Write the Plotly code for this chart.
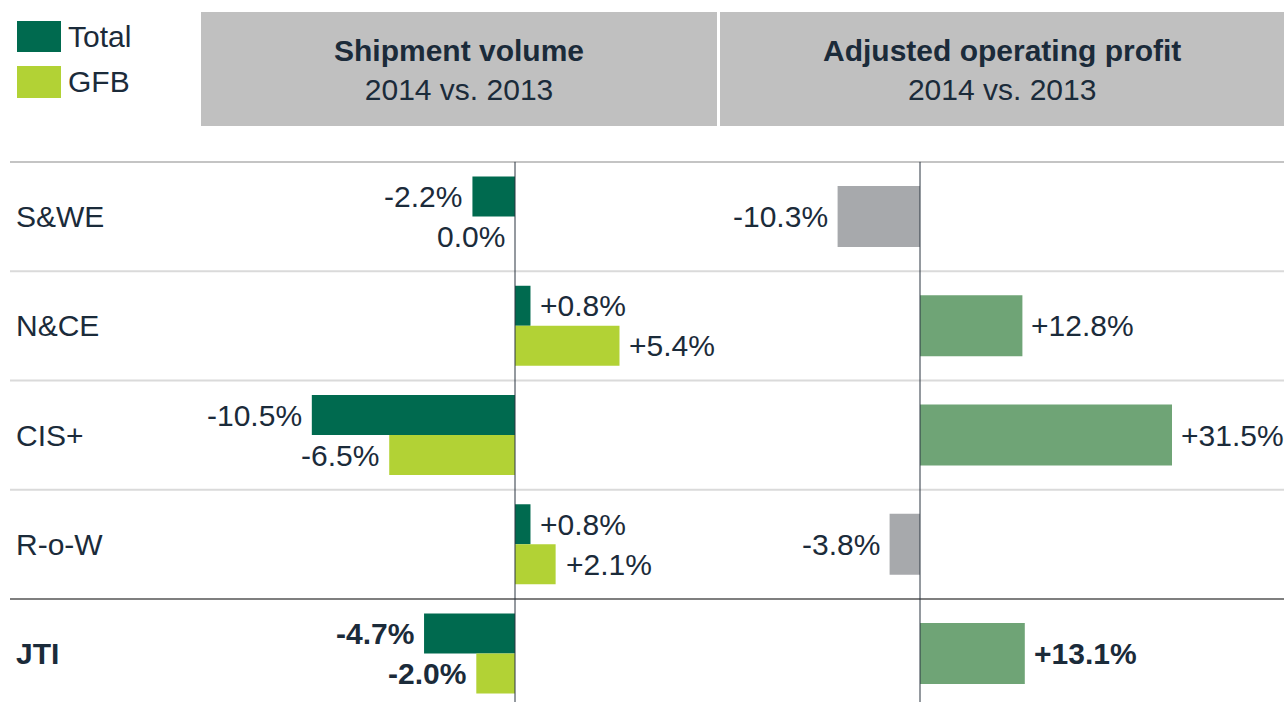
import plotly.graph_objects as go

# ---- data ----
regions = ["S&WE", "N&CE", "CIS+", "R-o-W", "JTI"]
vol_total = [-2.2, 0.8, -10.5, 0.8, -4.7]
vol_gfb = [0.0, 5.4, -6.5, 2.1, -2.0]
profit = [-10.3, 12.8, 31.5, -3.8, 13.1]
series_names = ["Total", "GFB"]
header_titles = ["Shipment volume", "Adjusted operating profit"]
header_sub = "2014 vs. 2013"

# ---- style ----
W, H = 1284, 702
TXT = "#1b2b3a"
C_TOTAL = "#006a4f"
C_GFB = "#b2d235"
C_POS = "#6fa476"
C_NEG = "#a7a9ac"
FONT = "Liberation Sans, Arial, sans-serif"
FS = 30

row_h = 109.25
top_row_center = 216.5
y_top = -top_row_center / row_h
y_bot = y_top + H / row_h

s1, z1 = 19.35, 515.0   # px per %, zero px for shipment
s2, z2 = 8.0, 920.0     # px per %, zero px for profit
split = 720.0

fig = go.Figure()
fig.add_trace(go.Bar(y=regions, x=vol_total, orientation="h", name=series_names[0],
                     marker=dict(color=C_TOTAL, line=dict(width=0)), xaxis="x", yaxis="y",
                     showlegend=False))
fig.add_trace(go.Bar(y=regions, x=vol_gfb, orientation="h", name=series_names[1],
                     marker=dict(color=C_GFB, line=dict(width=0)), xaxis="x", yaxis="y",
                     showlegend=False))
fig.add_trace(go.Bar(y=regions, x=profit, orientation="h", name="Profit", width=0.56,
                     marker=dict(color=[C_POS if v > 0 else C_NEG for v in profit], line=dict(width=0)),
                     xaxis="x2", yaxis="y2", showlegend=False))


def fmt(v, bold):
    s = (f"+{v:.1f}%" if v > 0 else f"{v:.1f}%")
    return f"<b>{s}</b>" if bold else s


ann = []
shapes = []
for i, r in enumerate(regions):
    bold = (r == "JTI")
    for vals, ysh in ((vol_total, 20), (vol_gfb, -20)):
        v = vals[i]
        ann.append(dict(x=v, y=r, xref="x", yref="y", text=fmt(v, bold), showarrow=False,
                        xanchor="left" if v > 0 else "right", xshift=8 if v > 0 else -8,
                        yshift=ysh, font=dict(size=FS, color=TXT, family=FONT)))
    v = profit[i]
    ann.append(dict(x=v, y=r, xref="x2", yref="y2", text=fmt(v, bold), showarrow=False,
                    xanchor="left" if v > 0 else "right", xshift=7 if v > 0 else -8,
                    font=dict(size=FS, color=TXT, family=FONT)))
    ann.append(dict(x=14 / W, y=r, xref="paper", yref="y", text=f"<b>{r}</b>" if bold else r,
                    showarrow=False, xanchor="left", font=dict(size=FS, color=TXT, family=FONT)))

# row separators
for k in range(len(regions)):
    yb = k - 0.5
    col = "#c4c4c4" if k == 0 else ("#7f7f7f" if k == len(regions) - 1 else "#dadada")
    shapes.append(dict(type="line", xref="paper", yref="y", x0=10 / W, x1=1, y0=yb, y1=yb,
                       line=dict(color=col, width=2), layer="below"))

# zero lines
shapes.append(dict(type="line", xref="x", yref="y", x0=0, x1=0, y0=-0.5, y1=y_bot,
                   line=dict(color="#2a3540", width=1)))
shapes.append(dict(type="line", xref="x2", yref="y", x0=0, x1=0, y0=-0.5, y1=y_bot,
                   line=dict(color="#2a3540", width=1)))

# header boxes
boxes = [(201, 717), (720, W)]
for (a, b), t in zip(boxes, header_titles):
    shapes.append(dict(type="rect", xref="paper", yref="paper", x0=a / W, x1=b / W,
                       y0=1 - 126 / H, y1=1 - 12 / H, fillcolor="#c0c0c0", line=dict(width=0),
                       layer="below"))
    ann.append(dict(x=(a + b) / 2 / W, y=1 - 70 / H, xref="paper", yref="paper",
                    text=f"<b>{t}</b><br>{header_sub}", showarrow=False, xanchor="center",
                    yanchor="middle", align="center",
                    font=dict(size=FS, color=TXT, family=FONT)))

# legend
for (y0, y1), c, n in zip(((21, 52), (66, 98)), (C_TOTAL, C_GFB), series_names):
    shapes.append(dict(type="rect", xref="paper", yref="paper", x0=17 / W, x1=61 / W,
                       y0=1 - y1 / H, y1=1 - y0 / H, fillcolor=c, line=dict(width=0)))
    ann.append(dict(x=66 / W, y=1 - (y0 + y1) / 2 / H, xref="paper", yref="paper", text=n,
                    showarrow=False, xanchor="left", yanchor="middle",
                    font=dict(size=FS, color=TXT, family=FONT)))

fig.update_layout(
    width=W, height=H, margin=dict(l=0, r=0, t=0, b=0),
    paper_bgcolor="white", plot_bgcolor="rgba(0,0,0,0)",
    barmode="group", bargap=0.268, bargroupgap=0,
    font=dict(family=FONT, color=TXT),
    xaxis=dict(domain=[0, split / W], range=[-z1 / s1, (split - z1) / s1], visible=False,
               fixedrange=True),
    xaxis2=dict(domain=[split / W, 1], range=[-(z2 - split) / s2, (W - z2) / s2],
                visible=False, fixedrange=True, anchor="y2"),
    yaxis=dict(domain=[0, 1], range=[y_bot, y_top], visible=False, type="category",
               categoryorder="array", categoryarray=regions, fixedrange=True),
    yaxis2=dict(domain=[0, 1], range=[y_bot, y_top], visible=False, type="category",
                categoryorder="array", categoryarray=regions, anchor="x2", fixedrange=True),
    annotations=ann, shapes=shapes,
)

fig.write_html("out.html", config={"displayModeBar": False},
               post_script="document.body.style.margin='0';document.body.style.padding='0';"
                           "document.body.style.overflow='hidden';")
